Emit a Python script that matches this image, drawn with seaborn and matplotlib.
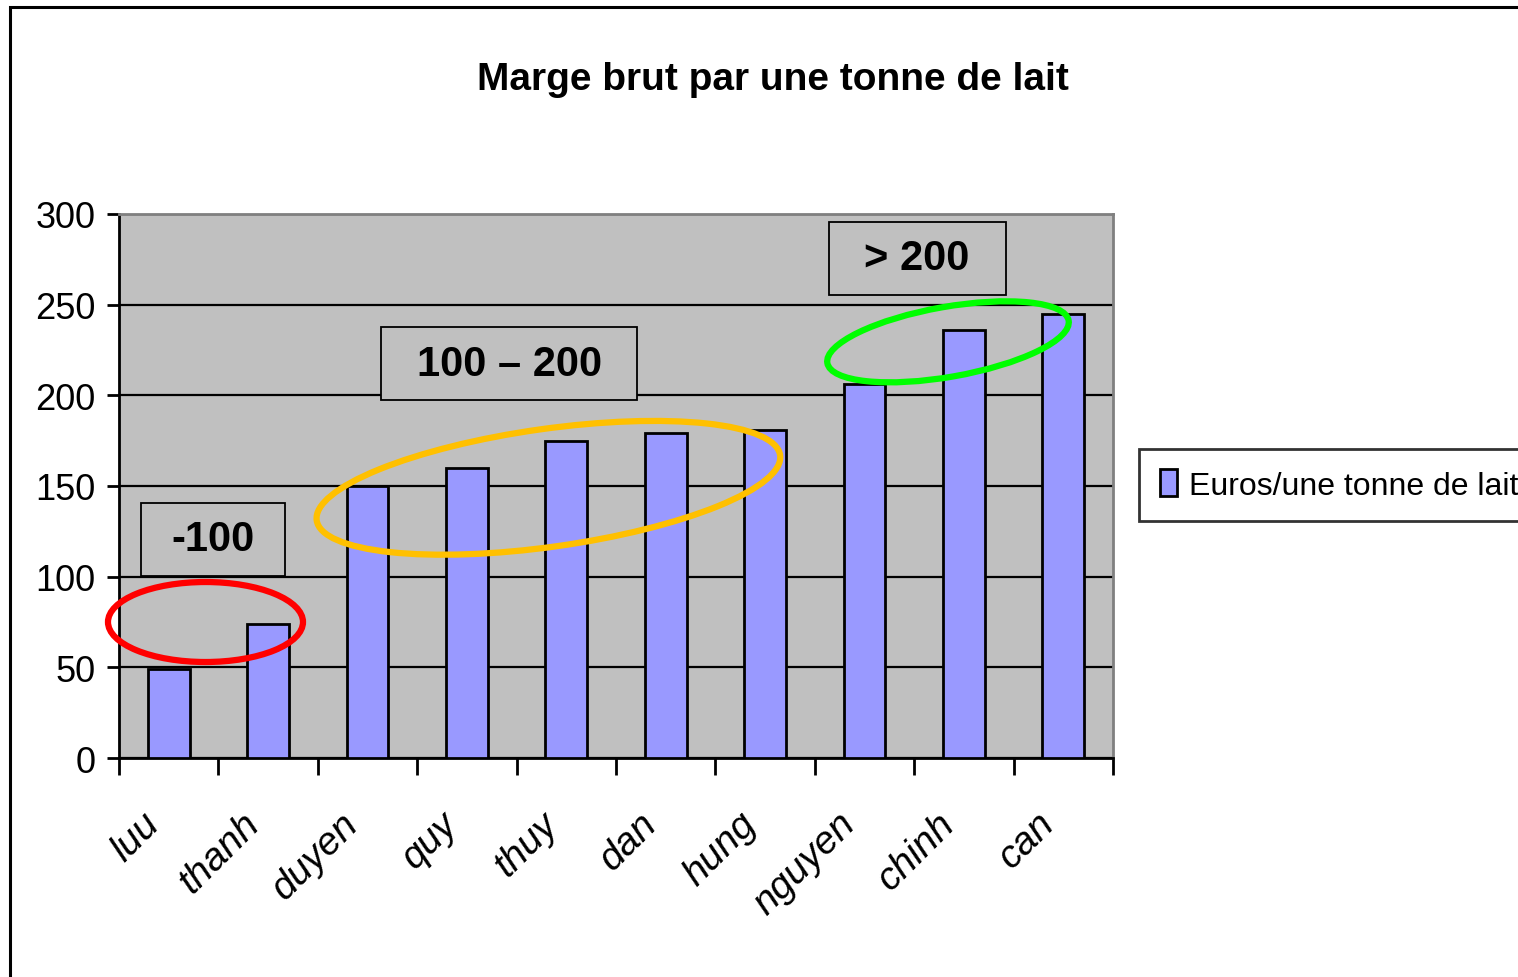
import numpy as np
import pandas as pd
import matplotlib
matplotlib.use('Agg')
import matplotlib.pyplot as plt
import seaborn as sns
from matplotlib.patches import Ellipse, Rectangle
from matplotlib.transforms import IdentityTransform, ScaledTranslation

# Data
names = ['luu', 'thanh', 'duyen', 'quy', 'thuy', 'dan', 'hung', 'nguyen', 'chinh', 'can']
marge = [49, 74, 150, 160, 175, 179, 181, 206, 236, 245]
series_label = 'Euros/une tonne de lait'

# Group annotations: label, box (x0, x1, y0, y1) in data units
groups = ['-100', '100 \u2013 200', '> 200']
group_boxes = [(-0.28, 1.17, 100.5, 140.5), (2.14, 4.71, 197.5, 237.5), (6.64, 8.42, 255.5, 295.5)]
# ellipses: centre (x, y) in data units, width/height in pixels, angle
ellipse_centres = [(0.37, 75), (3.82, 149), (7.84, 229.5)]
ellipse_sizes = [(195, 80, 0), (468, 118, 8), (245, 70, 10)]
ellipse_colors = ['#FF0000', '#FFC000', '#00FF00']

df = pd.DataFrame({'name': names, 'marge': marge})

sns.set_style('white')
plt.rcParams['font.family'] = ['Liberation Sans', 'DejaVu Sans']
plt.rcParams['text.color'] = 'black'
plt.rcParams['xtick.color'] = 'black'
plt.rcParams['ytick.color'] = 'black'
plt.rcParams['axes.labelcolor'] = 'black'

fig = plt.figure(figsize=(15.18, 9.78), dpi=100)
ax = fig.add_axes([0.0784, 0.2239, 0.7332 - 0.0784, 0.7802 - 0.2239])
ax.set_facecolor('#C0C0C0')

sns.barplot(data=df, x='name', y='marge', color='#9999FF', edgecolor='black',
            linewidth=2, width=0.42, saturation=1, ax=ax, label=series_label, zorder=3)

ax.set_xlim(-0.5, len(names) - 0.5)
ax.set_ylim(0, 300)
ax.set_yticks(np.arange(0, 301, 50))
ax.yaxis.grid(True, color='black', linewidth=1.6)
ax.set_axisbelow(True)
ax.set_xlabel('')
ax.set_ylabel('')

# spines
for s in ['left', 'bottom']:
    ax.spines[s].set_color('black')
    ax.spines[s].set_linewidth(2)
for s in ['top', 'right']:
    ax.spines[s].set_color('#808080')
    ax.spines[s].set_linewidth(2)

ax.tick_params(axis='y', direction='out', length=9, width=2, color='black',
               labelsize=26, pad=8, left=True)
ax.set_xticks(np.arange(len(names)))
ax.set_xticklabels(names, rotation=45, ha='right', rotation_mode='anchor',
                   fontsize=28, style='italic')
ax.tick_params(axis='x', which='major', length=0, pad=34, bottom=True)
shift = ScaledTranslation(-27 / 100, 0, fig.dpi_scale_trans)
for lbl in ax.get_xticklabels():
    lbl.set_transform(lbl.get_transform() + shift)
ax.set_xticks(np.arange(-0.5, len(names), 1), minor=True)
ax.tick_params(axis='x', which='minor', direction='out', length=12, width=2,
               color='black', bottom=True)

# group boxes with labels
for lab, (x0, x1, y0, y1) in zip(groups, group_boxes):
    ax.add_patch(Rectangle((x0, y0), x1 - x0, y1 - y0, facecolor='#C0C0C0',
                           edgecolor='black', linewidth=1.3, zorder=4))
    ax.text((x0 + x1) / 2, (y0 + y1) / 2, lab, ha='center', va='center',
            fontsize=30, fontweight='bold', zorder=5)

# ellipses drawn in pixel space so rotation is not distorted
for (cx, cy), (w, h, ang), col in zip(ellipse_centres, ellipse_sizes, ellipse_colors):
    px, py = ax.transData.transform((cx, cy))
    e = Ellipse((px, py), w, h, angle=ang, fill=False, edgecolor=col,
                linewidth=4.5, transform=IdentityTransform(), zorder=6)
    fig.patches.append(e)
    e.set_figure(fig)

fig.suptitle('Marge brut par une tonne de lait', x=0.509, y=0.918, va='center',
             fontsize=28, fontweight='bold')

leg = ax.legend(loc='center left', fontsize=23, frameon=True, fancybox=False,
                edgecolor='black', handlelength=0.55, handleheight=0.9,
                handletextpad=0.35, borderpad=0.65, borderaxespad=0)
leg.set_bbox_to_anchor((1139 / 1518, 1 - 486 / 978), transform=fig.transFigure)
leg.get_frame().set_linewidth(2)

# outer chart border
fig.patches.append(Rectangle((10 / 1518, -0.1), 1.2, 1.1 - 8 / 978, fill=False,
                             edgecolor='black', linewidth=2.2,
                             transform=fig.transFigure, figure=fig))

fig.savefig('out.png', dpi=100)
